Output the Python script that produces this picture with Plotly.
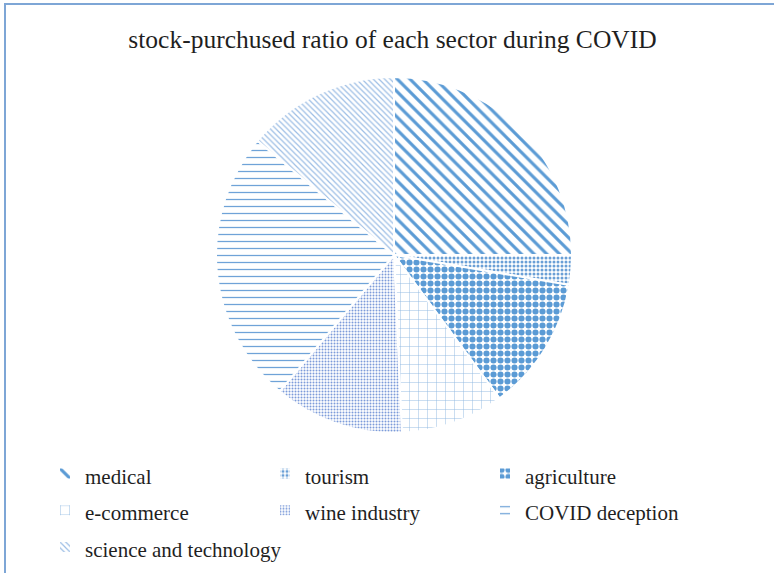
import plotly.graph_objects as go

# Data (percent share)
labels = ["medical", "tourism", "agriculture", "e-commerce", "wine industry",
          "COVID deception", "science and technology"]
values = [25.0, 2.7, 12.2, 9.4, 11.8, 25.0, 13.9]

# Styles
shapes_ = ["\\", ".", ".", "+", ".", "-", "\\"]
fgcolors = ["#5B9BD5", "#6A9FD6", "#5B9BD5", "#8DB6E0", "#7C9BDA", "#6FA3D8", "#9DBEE5"]
sizes = [9, 4, 7, 9, 3, 7, 4]
solidity = [0.35, 0.45, 0.6, 0.1, 0.35, 0.18, 0.3]

W, H = 774, 573
cx, cy, r = 394, 255, 178
SERIF = "Liberation Serif"

display_labels = [f"<span style='font-size:21px'>{t}</span>" for t in labels]

fig = go.Figure(go.Pie(
    labels=display_labels,
    values=values,
    sort=False,
    direction="clockwise",
    rotation=0,
    textinfo="none",
    marker=dict(
        colors=["white"] * len(labels),
        line=dict(color="white", width=2),
        pattern=dict(shape=shapes_, fgcolor=fgcolors, bgcolor="white", fgopacity=1,
                     size=sizes, solidity=solidity, fillmode="overlay"),
    ),
    domain=dict(x=[(cx - r) / W, (cx + r) / W],
                y=[(H - cy - r) / H, (H - cy + r) / H]),
))

fig.update_layout(
    width=W, height=H,
    margin=dict(l=0, r=0, t=0, b=0, autoexpand=False),
    paper_bgcolor="white",
    font=dict(family=SERIF),
    title=dict(text="stock-purchused ratio of each sector during COVID",
               x=392.5 / W, xanchor="center", y=(H - 39) / H, yanchor="middle",
               font=dict(family=SERIF, size=25.5, color="#1f1f1f")),
    legend=dict(orientation="h", x=45 / W, xanchor="left",
                y=(H - 450) / H, yanchor="top",
                entrywidth=175, entrywidthmode="pixels",
                font=dict(family=SERIF, size=26, color="#1f1f1f"),
                bgcolor="rgba(0,0,0,0)"),
    showlegend=True,
    shapes=[dict(type="rect", xref="paper", yref="paper",
                 x0=5 / W, x1=1.2, y0=-0.2, y1=(H - 4) / H,
                 line=dict(color="#7EA6D6", width=2))],
)

fig.write_html("out.html")
